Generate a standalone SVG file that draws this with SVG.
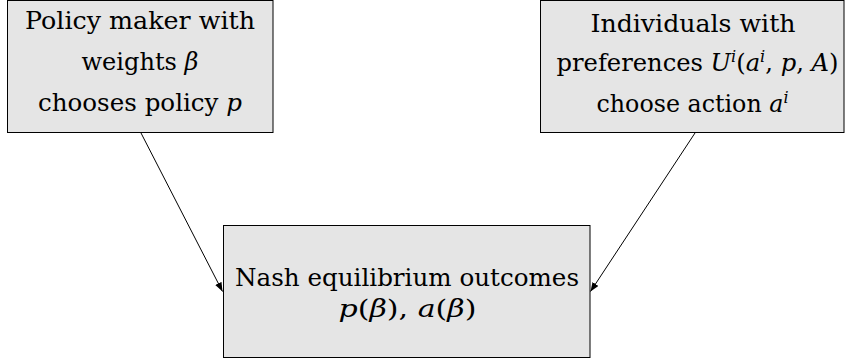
<svg xmlns="http://www.w3.org/2000/svg" width="845" height="362" viewBox="0 0 845 362">
<style>
.box{fill:#e5e5e5;stroke:#000;stroke-width:1}
.t{font-family:'DejaVu Serif','Liberation Serif',serif;font-size:24px;fill:#000;text-anchor:middle}
.m{font-style:italic}
.s{font-size:16px;font-style:italic}
.conn{stroke:#000;stroke-width:1;fill:none}
</style>
<defs>
<marker id="ah" markerUnits="userSpaceOnUse" markerWidth="10" markerHeight="8" refX="9" refY="3.5" orient="auto">
<path d="M0,0 L9,3.5 L0,7 Z" fill="#000"/>
</marker>
</defs>
<g id="policy">
<rect class="box" x="7.5" y="0.5" width="265.5" height="132"/>
<text class="t" x="140" y="28.5" textLength="230" lengthAdjust="spacingAndGlyphs">Policy maker with</text>
<text class="t" x="140" y="70" textLength="117" lengthAdjust="spacingAndGlyphs">weights <tspan class="m">β</tspan></text>
<text class="t" x="140" y="111" textLength="204" lengthAdjust="spacingAndGlyphs">chooses policy <tspan class="m">p</tspan></text>
</g>
<g id="individuals">
<rect class="box" x="540.5" y="0.5" width="303.5" height="132"/>
<text class="t" x="693" y="31.5" textLength="205" lengthAdjust="spacingAndGlyphs">Individuals with</text>
<text class="t" x="697.5" y="70.5" textLength="282" lengthAdjust="spacingAndGlyphs">preferences <tspan class="m">U</tspan><tspan class="s" dy="-9">i</tspan><tspan dy="9">(</tspan><tspan class="m">a</tspan><tspan class="s" dy="-9">i</tspan><tspan dy="9">, </tspan><tspan class="m">p</tspan>, <tspan class="m">A</tspan>)</text>
<text class="t" x="692.5" y="111.5" textLength="192" lengthAdjust="spacingAndGlyphs">choose action <tspan class="m">a</tspan><tspan class="s" dy="-9">i</tspan></text>
</g>
<g id="nash">
<rect class="box" x="223.5" y="225.5" width="366.5" height="132"/>
<text class="t" x="407" y="285.5" textLength="344" lengthAdjust="spacingAndGlyphs">Nash equilibrium outcomes</text>
<text class="t" x="407.5" y="317" textLength="138" lengthAdjust="spacingAndGlyphs"><tspan class="m">p</tspan>(<tspan class="m">β</tspan>),  <tspan class="m">a</tspan>(<tspan class="m">β</tspan>)</text>
</g>
<g id="connectors">
<line class="conn" x1="141" y1="133" x2="222.5" y2="291.5" marker-end="url(#ah)"/>
<line class="conn" x1="695" y1="133" x2="590.5" y2="291.5" marker-end="url(#ah)"/>
</g>
</svg>
